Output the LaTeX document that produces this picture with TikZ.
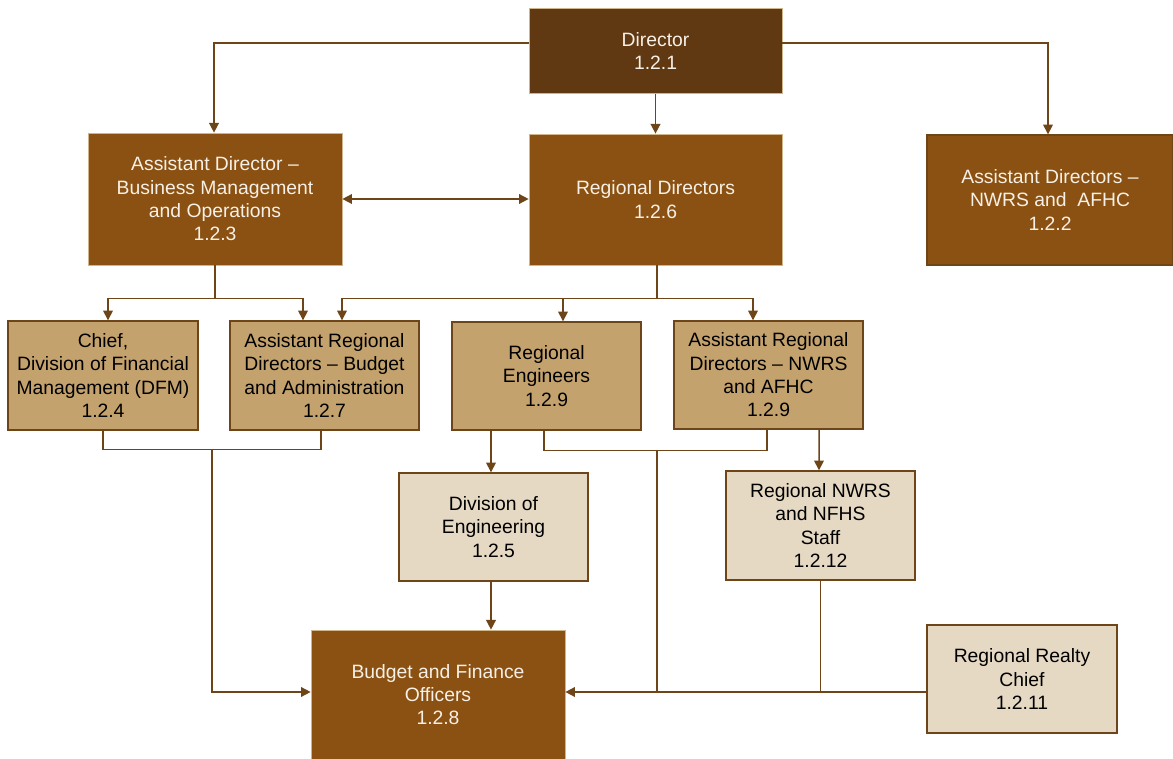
\documentclass[tikz,border=0pt]{standalone}
\usepackage{fontspec}
\setmainfont{Liberation Sans}
\usetikzlibrary{arrows.meta,calc}
\definecolor{dirbrown}{HTML}{603913}
\definecolor{midbrown}{HTML}{8B5112}
\definecolor{tanbox}{HTML}{C4A26D}
\definecolor{lightbox}{HTML}{E6D9C3}
\definecolor{linebrown}{HTML}{6E4519}
\definecolor{paletext}{HTML}{F7F0E6}
\tikzset{
  box/.style={rectangle, align=center, inner sep=2pt, line width=0.8pt,
    font=\fontsize{11pt}{13.3pt}\selectfont},
  darkbox/.style={box, fill=midbrown, draw=tanbox!80!white, line width=0.4pt, text=paletext},
  tanbx/.style={box, fill=tanbox, draw=linebrown, text=black},
  lightbx/.style={box, fill=lightbox, draw=linebrown, text=black},
  line/.style={draw=linebrown, line width=0.85pt},
  link/.style={line, -{Triangle[length=5.5pt,width=5.5pt]}},
  dlink/.style={line, {Triangle[length=5.5pt,width=5.5pt]}-{Triangle[length=5.5pt,width=5.5pt]}}
}
\begin{document}
\begin{tikzpicture}[x=0.02cm, y=-0.02cm]
                \useasboundingbox (0,0) rectangle (1173,759);

                \node[darkbox, fill=dirbrown, minimum width=5.06cm, minimum height=1.7cm] (dir) at (655.5,51) {Director\\1.2.1};
                \node[darkbox, minimum width=5.08cm, minimum height=2.64cm] (adbmo) at (215,199) {Assistant Director --\\Business Management\\and Operations\\1.2.3};
                \node[darkbox, minimum width=5.06cm, minimum height=2.62cm] (rd) at (655.5,199.5) {Regional Directors\\1.2.6};
                \node[darkbox, draw=linebrown, line width=0.8pt, minimum width=4.92cm, minimum height=2.6cm] (adnwrs) at (1050,200) {Assistant Directors --\\NWRS and\ \ AFHC\\1.2.2};

                \node[tanbx, minimum width=3.8cm, minimum height=2.18cm] (dfm) at (103,375.5) {Chief,\\Division of Financial\\Management (DFM)\\1.2.4};
                \node[tanbx, minimum width=3.78cm, minimum height=2.18cm] (ardba) at (324.5,375.5) {Assistant Regional\\Directors -- Budget\\and Administration\\1.2.7};
                \node[tanbx, minimum width=3.78cm, minimum height=2.16cm] (reng) at (546.5,376) {Regional\\Engineers\\1.2.9};
                \node[tanbx, minimum width=3.78cm, minimum height=2.16cm] (ardnw) at (768.5,375) {Assistant Regional\\Directors -- NWRS\\and AFHC\\1.2.9};

                \node[lightbx, minimum width=3.78cm, minimum height=2.16cm] (doe) at (493.5,527) {Division of\\Engineering\\1.2.5};
                \node[lightbx, minimum width=3.78cm, minimum height=2.18cm] (rnwrs) at (820.5,525.5) {Regional NWRS\\and NFHS\\Staff\\1.2.12};

                \node[darkbox, minimum width=5.08cm, minimum height=2.58cm] (bfo) at (438,694.5) {Budget and Finance\\Officers\\1.2.8};
                \node[lightbx, minimum width=3.8cm, minimum height=2.16cm] (rrc) at (1022,679) {Regional Realty\\Chief\\1.2.11};

                \draw[link] ($(dir.west)+(0,-8)$) -| ($(adbmo.north)+(-1,0)$);
                \draw[link] ($(dir.east)+(0,-8)$) -| ($(adnwrs.north)+(-2,0)$);
                \draw[link] (dir.south) -- (rd.north);
                \draw[dlink] (adbmo.east) -- (adbmo.east -| rd.west);

                \draw[line] (adbmo.south) -- ++(0,33) coordinate (bmo-j);
                \draw[link] (bmo-j) -| ($(dfm.north)+(5,0)$);
                \draw[link] (bmo-j) -| ($(ardba.north)+(-21.5,0)$);

                \draw[line] ($(rd.south)+(1.5,0)$) -- ++(0,33) coordinate (rd-j);
                \draw[link] (rd-j) -| ($(ardba.north)+(17.5,0)$);
                \draw[link] (rd-j) -| ($(reng.north)+(16.5,0)$);
                \draw[link] (rd-j) -| ($(ardnw.north)+(-15.5,0)$);

                \draw[link] ($(reng.south)+(-55.5,0)$) -- ($(doe.north)+(-2.5,0)$);
                \draw[link] ($(ardnw.south)+(50.5,0)$) -- ($(rnwrs.north)+(-1.5,0)$);
                \draw[link] ($(doe.south)+(-2.5,0)$) coordinate (doe-o) -- (doe-o |- bfo.north);

                \coordinate (bfo-w) at ($(bfo.west)+(0,-2.5)$);
                \coordinate (bfo-e) at ($(bfo.east)+(0,-2.5)$);

                \draw[line] (dfm.south) -- ++(0,19) -| ($(ardba.south)+(-3.5,0)$);
                \coordinate (dfm-j) at (212,449);
                \draw[link] (dfm-j) |- (bfo-w);

                \draw[line] ($(reng.south)+(-2.5,0)$) -- ++(0,20) -| ($(ardnw.south)+(-1.5,0)$);
                \coordinate (eng-j) at (657,450);
                \draw[line] (eng-j) -- (eng-j |- bfo-e);
                \draw[line] (rnwrs.south) -- (rnwrs.south |- bfo-e);
                \draw[link] (rrc.west |- bfo-e) -- (bfo-e);
            \end{tikzpicture}
\end{document}
